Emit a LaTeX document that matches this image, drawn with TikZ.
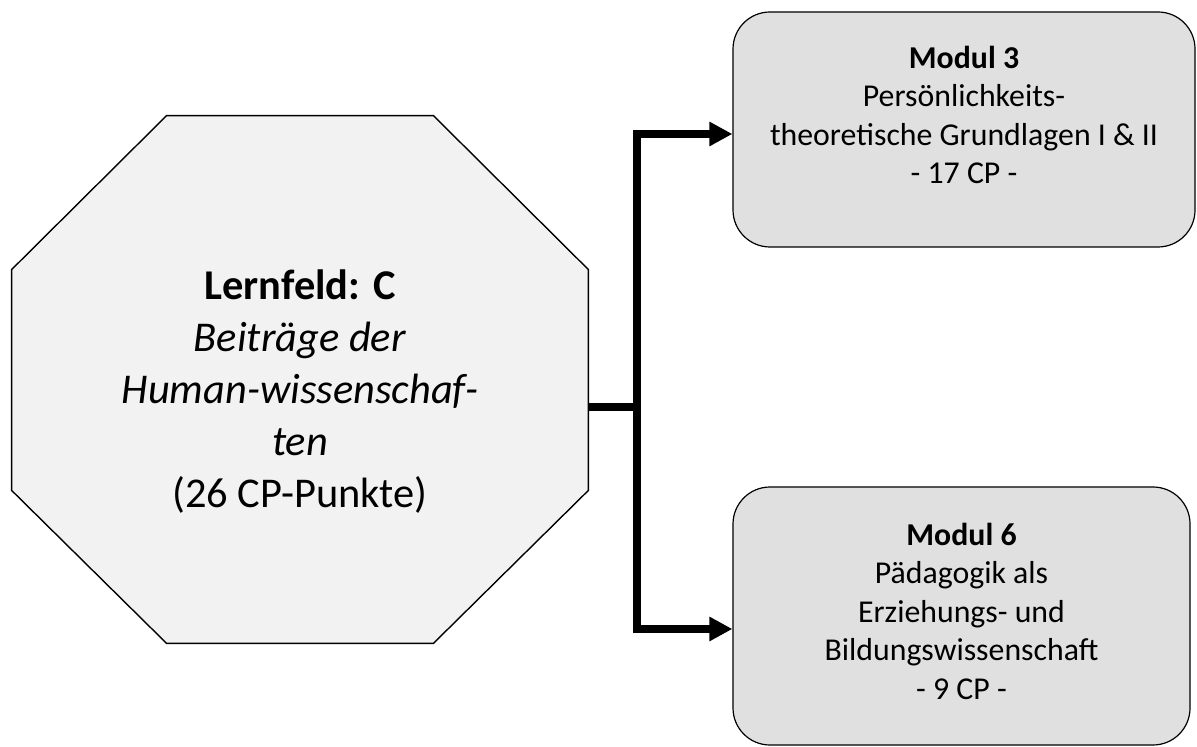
\documentclass[tikz,border=0pt]{standalone}
\usepackage{fontspec}
\setmainfont{Carlito}
\usetikzlibrary{arrows.meta,calc}
\definecolor{octfill}{HTML}{F2F2F2}
\definecolor{boxfill}{HTML}{E0E0E0}
\tikzset{
  octshape/.style={draw=black, line width=0.7pt, fill=octfill, line join=miter},
  modbox/.style={draw=black, line width=0.6pt, fill=boxfill, rounded corners=18.5pt, inner sep=0pt},
  modtext/.style={align=center, font=\fontsize{15.9pt}{19.25pt}\selectfont, inner sep=0pt},
  octtext/.style={align=center, font=\fontsize{21.2pt}{26pt}\selectfont, inner sep=0pt},
  conn/.style={draw=black, line width=3.85pt, line join=miter},
  arr/.style={-{Triangle[length=11.5pt,width=11.5pt]}}
}
\begin{document}
\begin{tikzpicture}[x=0.5pt,y=-0.5pt]
\useasboundingbox (0,0) rectangle (1197,747);
% octagon frame
\node[minimum width=288pt, minimum height=263.5pt, inner sep=0pt] (oct) at (300,379.5) {};
\draw[octshape] ($(oct.north west)+(155,0)$) -- ($(oct.north east)+(-155,0)$) -- ($(oct.north east)+(0,154)$) -- ($(oct.south east)+(0,-153)$) -- ($(oct.south east)+(-155,0)$) -- ($(oct.south west)+(155,0)$) -- ($(oct.south west)+(0,-153)$) -- ($(oct.north west)+(0,154)$) -- cycle;
\node[octtext] (octlabel) at (300,392) {\textbf{Lernfeld: C}\\\textit{Beiträge der}\\\textit{Human-wissenschaf-}\\\textit{ten}\\(26 CP-Punkte)};
% module boxes
\node[modbox, minimum width=231pt, minimum height=117.5pt] (m3) at (964,129.5) {};
\node[modtext] (m3text) at (964,115) {\textbf{Modul 3}\\Persönlichkeits-\\theoretische Grundlagen I \& II\\- 17 CP -};
\node[modbox, minimum width=228.5pt, minimum height=129pt] (m6) at (961.5,616) {};
\node[modtext] (m6text) at (961.5,611) {\textbf{Modul 6}\\Pädagogik als\\Erziehungs- und\\Bildungswissenschaft\\- 9 CP -};
% connectors
\coordinate (j) at (637,407);
\coordinate (a1) at (m3.west |- 0,134);
\coordinate (a2) at (m6.west |- 0,629);
\draw[conn] (oct.east |- j) -- (j);
\draw[conn, arr] (j) |- (a1);
\draw[conn, arr] (j) |- (a2);
\end{tikzpicture}
\end{document}
